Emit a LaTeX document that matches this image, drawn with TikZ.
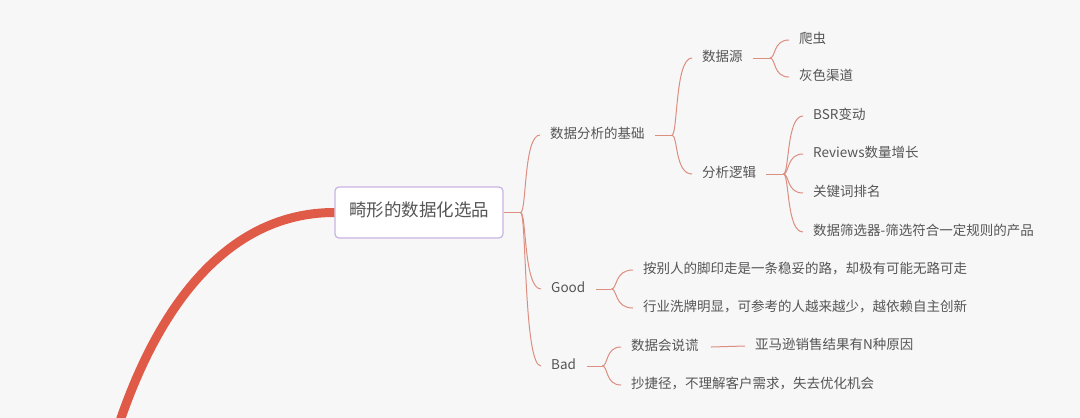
\documentclass[tikz,border=0pt]{standalone}
\usepackage{fontspec}
\newfontfamily\cjk{Noto Sans CJK SC}
\usetikzlibrary{calc}
\definecolor{bg}{HTML}{F7F7F7}
\definecolor{thickc}{HTML}{E05A48}
\definecolor{connc}{HTML}{DC8E80}
\definecolor{boxc}{HTML}{C8B4E2}
\definecolor{txtc}{HTML}{555555}
\newcommand\mmlink[2]{\draw[conn] (#1) .. controls ($(#1)+(6,0)$) and ($(#1 |- #2.west)+(3,0)$) .. ($(#2.west)+(-10,0)$);}
\begin{document}
\begin{tikzpicture}[x=1pt,y=-1pt,
  conn/.style={draw=connc, line width=1pt},
  lbl/.style={anchor=west, inner xsep=0pt, inner ysep=1pt, text height=0.8em, text depth=0.05em, text=txtc, font=\cjk\fontsize{13.5}{16}\selectfont},
  rootbox/.style={draw=boxc, line width=1.2pt, fill=white, rounded corners=4pt, minimum width=168pt, minimum height=51pt, inner sep=0pt, text height=0.8em, text depth=0.05em, text=txtc, font=\cjk\fontsize{17.5}{20}\selectfont},
  tailline/.style={draw=thickc, line width=9pt}]
\useasboundingbox (0,0) rectangle (1080,418);
\clip (0,0) rectangle (1080,418);
\fill[bg] (0,0) rectangle (1080,418);

% root
\node[rootbox] (root) at (419,212.5) {畸形的数据化选品};
\coordinate (tailend) at (119,424);
\draw[tailline] (root.west) .. controls (230,212.5) and (160,302) .. (tailend);

% level 1
\node[lbl] (n1) at (550,135) {数据分析的基础};
\node[lbl] (n2) at (551,289) {Good};
\node[lbl] (n3) at (551,366) {Bad};
% level 2
\node[lbl] (n11) at (702,58) {数据源};
\node[lbl] (n12) at (702,174) {分析逻辑};
\node[lbl] (n111) at (799,40) {爬虫};
\node[lbl] (n112) at (799,77) {灰色渠道};
\node[lbl] (n121) at (813,116) {BSR变动};
\node[lbl] (n122) at (813,154) {Reviews数量增长};
\node[lbl] (n123) at (813,193) {关键词排名};
\node[lbl] (n124) at (813,232) {数据筛选器-筛选符合一定规则的产品};
\node[lbl] (n21) at (643,270) {按别人的脚印走是一条稳妥的路，却极有可能无路可走};
\node[lbl] (n22) at (643,308) {行业洗牌明显，可参考的人越来越少，越依赖自主创新};
\node[lbl] (n31) at (631,347) {数据会说谎};
\node[lbl] (n311) at (755,346) {亚马逊销售结果有N种原因};
\node[lbl] (n32) at (631,385) {抄捷径，不理解客户需求，失去优化机会};

% junctions
\coordinate (j0) at ($(root.east)+(17,0)$);
\coordinate (j1) at ($(n1.east)+(27,0)$);
\coordinate (j11) at ($(n11.east)+(27,0)$);
\coordinate (j12) at ($(n12.east)+(27,0)$);
\coordinate (j2) at ($(n2.east)+(26,0)$);
\coordinate (j3) at ($(n3.east)+(26,0)$);

\draw[conn] (root.east) -- (j0);
\draw[conn] ($(n1.east)+(10,0)$) -- (j1);
\draw[conn] ($(n11.east)+(10,0)$) -- (j11);
\draw[conn] ($(n12.east)+(10,0)$) -- (j12);
\draw[conn] ($(n2.east)+(11,0)$) -- (j2);
\draw[conn] ($(n3.east)+(11,0)$) -- (j3);
\draw[conn] ($(n31.east)+(12,0)$) -- ($(n311.west)+(-10,0)$);

\mmlink{j0}{n1}
\mmlink{j0}{n2}
\mmlink{j0}{n3}
\mmlink{j1}{n11}
\mmlink{j1}{n12}
\mmlink{j11}{n111}
\mmlink{j11}{n112}
\mmlink{j12}{n121}
\mmlink{j12}{n122}
\mmlink{j12}{n123}
\mmlink{j12}{n124}
\mmlink{j2}{n21}
\mmlink{j2}{n22}
\mmlink{j3}{n31}
\mmlink{j3}{n32}
\end{tikzpicture}
\end{document}
